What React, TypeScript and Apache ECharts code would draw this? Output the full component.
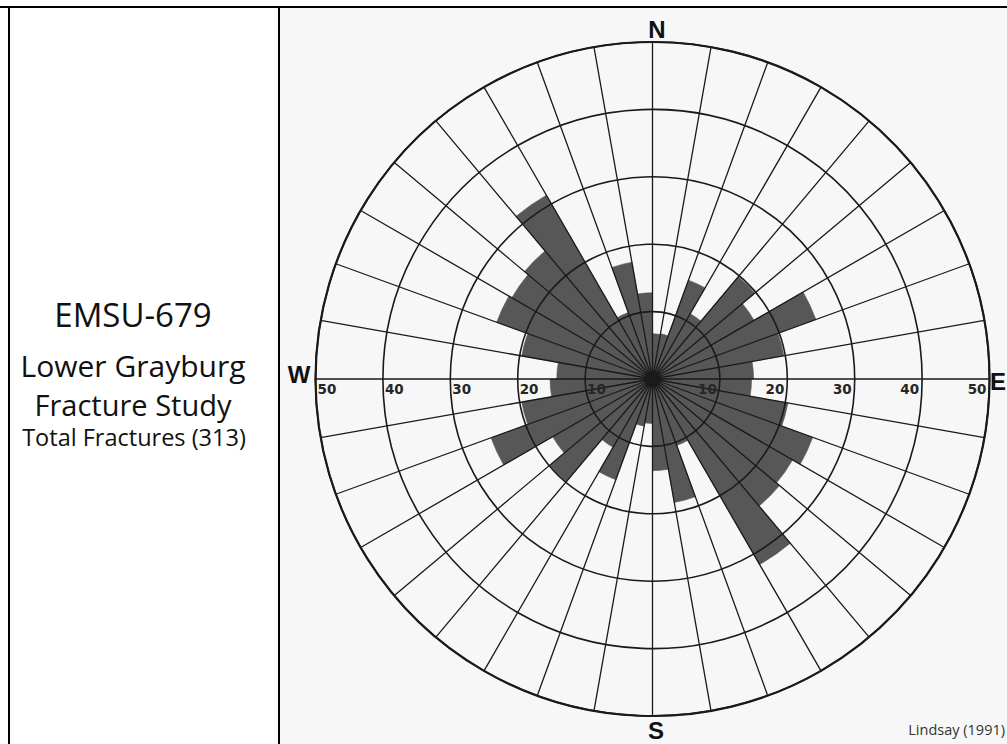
import React, { useEffect, useRef } from 'react';
import * as echarts from 'echarts';

// 10-degree azimuth sectors, clockwise from North
const sectors = [
  '0°', '10°', '20°', '30°', '40°', '50°', '60°', '70°', '80°',
  '90°', '100°', '110°', '120°', '130°', '140°', '150°', '160°', '170°',
  '180°', '190°', '200°', '210°', '220°', '230°', '240°', '250°', '260°',
  '270°', '280°', '290°', '300°', '310°', '320°', '330°', '340°', '350°',
];

// fracture frequency per sector
const fractureCounts = [
  6.7, 6.8, 15.6, 11.2, 19.8, 17.4, 25.8, 19.8, 15.0,
  14.7, 20.4, 25.3, 24.0, 24.6, 31.8, 10.5, 18.6, 13.6,
  6.6, 7.1, 15.9, 11.7, 19.9, 17.1, 25.5, 19.7, 15.2,
  14.2, 19.7, 24.6, 24.1, 24.8, 31.5, 10.5, 17.6, 12.8,
];

const radiusMax = 50;
const ringStep = 10;

const titleLines = ['EMSU-679', 'Lower Grayburg', 'Fracture Study', 'Total Fractures (313)'];
const compassLabels = ['N', 'E', 'S', 'W'];
const sourceNote = 'Lindsay (1991)';

export default function App() {
  const ref = useRef<HTMLDivElement>(null);

  useEffect(() => {
    if (!ref.current) return;
    const chart = echarts.init(ref.current, null, { renderer: 'svg' });
    const CX = 652.5;
    const CY = 379;
    const R = 337;
    const lineColor = '#1a1a1a';
    const barColor = '#575757';
    const tickLabel = {
      show: true,
      fontFamily: 'DejaVu Sans',
      fontWeight: 'bold' as const,
      fontSize: 13.5,
      color: '#262626',
      verticalAlign: 'top' as const,
      formatter: (v: number) => (v === 0 ? '' : String(v)),
    };
    const hiddenRadius = {
      type: 'value' as const,
      min: 0,
      max: radiusMax,
      interval: ringStep,
      axisLine: { show: false },
      axisTick: { show: false },
      splitLine: { show: false },
    };
    const compassFont = 'bold 24px "Liberation Sans"';

    const option: any = {
      animation: false,
      backgroundColor: '#ffffff',
      polar: [
        { center: [CX, CY], radius: R },
        { center: [CX, CY], radius: R },
        { center: [CX, CY], radius: R },
      ],
      angleAxis: [
        {
          polarIndex: 0,
          type: 'category',
          data: sectors,
          startAngle: 90,
          clockwise: true,
          boundaryGap: true,
          z: 10,
          axisLine: { show: true, lineStyle: { color: lineColor, width: 2.2 } },
          axisTick: { show: false, interval: 0 },
          axisLabel: { show: false, interval: 0 },
          splitLine: { show: true, interval: 0, lineStyle: { color: lineColor, width: 1.3 } },
        },
        { polarIndex: 1, type: 'value', min: 0, max: 360, startAngle: 0, show: false },
        { polarIndex: 2, type: 'value', min: 0, max: 360, startAngle: 180, show: false },
      ],
      radiusAxis: [
        {
          polarIndex: 0,
          type: 'value',
          min: 0,
          max: radiusMax,
          interval: ringStep,
          z: 10,
          axisLine: { show: false },
          axisTick: { show: false },
          axisLabel: { show: false },
          splitLine: { show: true, lineStyle: { color: lineColor, width: 1.6 } },
        },
        {
          polarIndex: 1,
          ...hiddenRadius,
          z: 11,
          axisLabel: { ...tickLabel, margin: -3, align: 'right', padding: [0, 3, 0, 0] },
        },
        {
          polarIndex: 2,
          ...hiddenRadius,
          z: 11,
          axisLabel: { ...tickLabel, margin: 3, align: 'left', padding: [0, 0, 0, 2] },
        },
      ],
      series: [
        {
          type: 'bar',
          coordinateSystem: 'polar',
          polarIndex: 0,
          data: fractureCounts,
          barCategoryGap: '0%',
          z: 2,
          itemStyle: { color: barColor, borderColor: barColor, borderWidth: 0.6 },
        },
      ],
      graphic: [
        {
          type: 'rect',
          z: -10,
          silent: true,
          shape: { x: 279, y: 7, width: 728, height: 737 },
          style: { fill: '#f7f7f7' },
        },
        { type: 'line', z: 20, shape: { x1: 0, y1: 7, x2: 1007, y2: 7 }, style: { stroke: '#000', lineWidth: 2 } },
        { type: 'line', z: 20, shape: { x1: 9, y1: 7, x2: 9, y2: 744 }, style: { stroke: '#000', lineWidth: 2 } },
        { type: 'line', z: 20, shape: { x1: 279, y1: 7, x2: 279, y2: 744 }, style: { stroke: '#000', lineWidth: 2 } },
        {
          type: 'text', z: 20, x: 133, y: 314,
          style: { text: titleLines[0], font: '33px "Open Sans"', fill: '#111', align: 'center', verticalAlign: 'middle' },
        },
        {
          type: 'text', z: 20, x: 133, y: 365,
          style: { text: titleLines[1], font: '30px "Open Sans"', fill: '#111', align: 'center', verticalAlign: 'middle' },
        },
        {
          type: 'text', z: 20, x: 133, y: 404,
          style: { text: titleLines[2], font: '29px "Open Sans"', fill: '#111', align: 'center', verticalAlign: 'middle' },
        },
        {
          type: 'text', z: 20, x: 134, y: 437,
          style: { text: titleLines[3], font: '23.5px "Open Sans"', fill: '#111', align: 'center', verticalAlign: 'middle' },
        },
        {
          type: 'text', z: 20, x: 657, y: 29,
          style: { text: compassLabels[0], font: compassFont, fill: '#111', align: 'center', verticalAlign: 'middle' },
        },
        {
          type: 'text', z: 20, x: 1006, y: 381,
          style: { text: compassLabels[1], font: compassFont, fill: '#111', align: 'right', verticalAlign: 'middle' },
        },
        {
          type: 'text', z: 20, x: 656, y: 730,
          style: { text: compassLabels[2], font: compassFont, fill: '#111', align: 'center', verticalAlign: 'middle' },
        },
        {
          type: 'text', z: 20, x: 299, y: 374,
          style: { text: compassLabels[3], font: compassFont, fill: '#111', align: 'center', verticalAlign: 'middle' },
        },
        {
          type: 'text', z: 20, x: 1005, y: 729,
          style: { text: sourceNote, font: '14.5px "Open Sans"', fill: '#333', align: 'right', verticalAlign: 'middle' },
        },
      ],
    };

    chart.setOption(option);
    return () => chart.dispose();
  }, []);

  return (
    <div
      ref={ref}
      style={{ position: 'absolute', left: 0, top: 0, width: 1007, height: 744 }}
    />
  );
}
